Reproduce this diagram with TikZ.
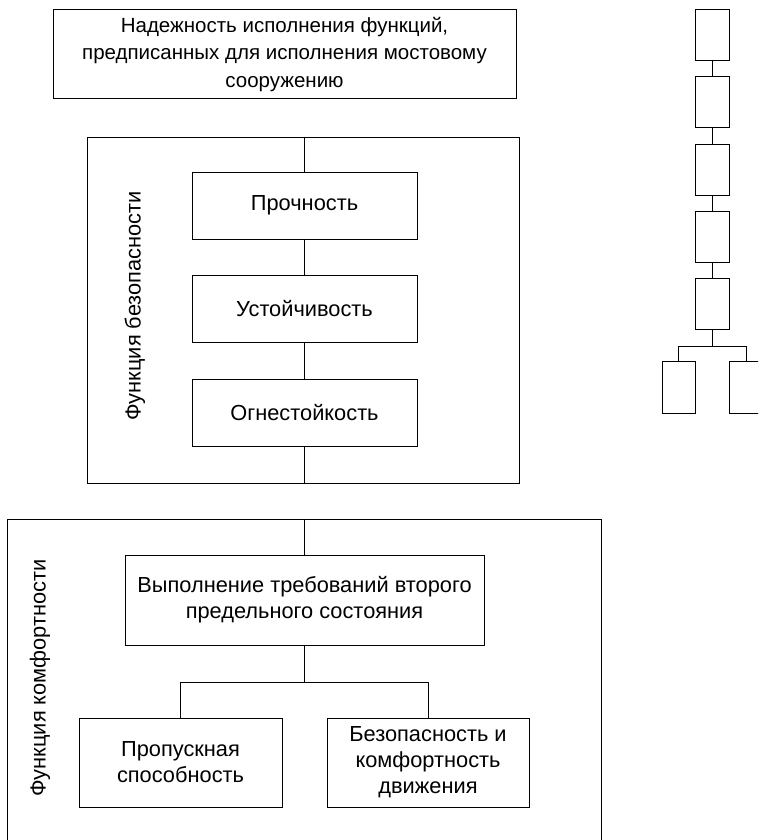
\documentclass[tikz,border=0pt]{standalone}
\usepackage{fontspec}
\setmainfont{Liberation Sans}
\usetikzlibrary{positioning}

\begin{document}
\begin{tikzpicture}[x=1pt, y=-1pt, line width=1pt,
    font=\fontsize{21.8}{26}\selectfont,
    blok/.style={draw, align=center, inner sep=0pt},
    ramka/.style={draw, inner sep=0pt},
    zveno/.style={draw, inner sep=0pt, minimum width=34pt, minimum height=51pt}]
    \useasboundingbox (0,0) rectangle (758,840);
    \clip (0,0) rectangle (758,840);

    % Верхний блок
    \node[blok, minimum width=463pt, minimum height=89pt, font=\fontsize{20.5}{27.5}\selectfont]
        (nadezh) at (284.5,54.5)
        {Надежность исполнения функций,\\предписанных для исполнения мостовому\\сооружению};

    % Функция безопасности
    \node[ramka, minimum width=432pt, minimum height=346pt] (bezop) at (303,310) {};
    \node[rotate=90] (bezlab) at (135,306) {Функция безопасности};
    \node[blok, minimum width=225pt, minimum height=67pt] (prochn) at (304.5,205.5) {Прочность};
    \node[blok, minimum width=225pt, minimum height=67pt] (ustoich) at (304.5,308.5) {Устойчивость};
    \node[blok, minimum width=225pt, minimum height=67pt] (ogn) at (304.5,412.5) {Огнестойкость};
    \draw (bezop.north -| prochn) -- (prochn.north);
    \draw (prochn.south) -- (ustoich.north);
    \draw (ustoich.south) -- (ogn.north);
    \draw (ogn.south) -- (bezop.south -| ogn);

    % Функция комфортности
    \node[ramka, minimum width=594pt, minimum height=340pt] (komf) at (304,689) {};
    \node[rotate=90] (komflab) at (40,678) {Функция комфортности};
    \node[blok, minimum width=359pt, minimum height=90pt] (vypoln) at (304.5,600)
        {Выполнение требований второго\\предельного состояния};
    \node[blok, minimum width=203pt, minimum height=89pt] (propusk) at (180.5,762.5)
        {Пропускная\\способность};
    \node[blok, minimum width=202pt, minimum height=89pt] (bezdv) at (428,762.5)
        {Безопасность и\\комфортность\\движения};
    \coordinate (razv) at (304.5,682);
    \draw (komf.north -| vypoln) -- (vypoln.north);
    \draw (vypoln.south) -- (razv);
    \draw (razv) -| (propusk.north);
    \draw (razv) -| (bezdv.north);

    % Цепочка справа
    \foreach \i/\y in {1/35.5, 2/102.5, 3/169.5, 4/236.5, 5/303.5}
        \node[zveno] (zv\i) at (712,\y) {};
    \foreach \i [count=\j from 2] in {1,...,4}
        \draw (zv\i.south) -- (zv\j.north);
    \node[zveno, minimum width=33pt, minimum height=52pt] (zvl) at (678.5,387) {};
    \node[zveno, minimum height=52pt] (zvr) at (746,387) {};
    \coordinate (razv2) at (712,346);
    \draw (zv5.south) -- (razv2);
    \draw (razv2) -| (zvl.north);
    \draw (razv2) -| (zvr.north);
\end{tikzpicture}
\end{document}
